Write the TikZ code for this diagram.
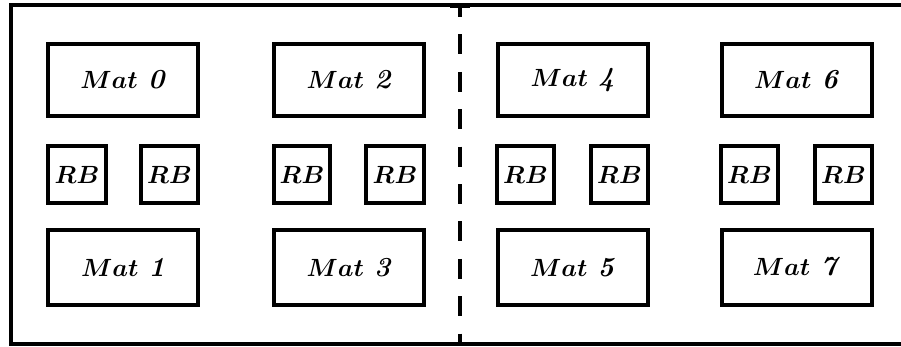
\documentclass[tikz,border=0pt]{standalone}
\newcommand{\matlabel}[1]{$Mat$\ \textit{#1}}
\begin{document}
\begin{tikzpicture}[x=1pt,y=-1pt,
  matbox/.style={draw,line width=4pt,minimum width=150pt,minimum height=72pt,inner sep=0pt,
    font=\fontsize{27.5}{30}\selectfont\bfseries\boldmath},
  rbbox/.style={draw,line width=4pt,minimum width=57pt,minimum height=57pt,inner sep=0pt,
    font=\fontsize{27.5}{30}\selectfont\bfseries\boldmath},
  frame/.style={line width=4pt,line join=miter},
  divider/.style={line width=4pt,dash pattern=on 20pt off 17.4pt,dash phase=7.5pt}]
\useasboundingbox (0,0) rectangle (901,346);

% outer frame (open on the right)
\coordinate (ftr) at (901,4.5);
\coordinate (ftl) at (11,4.5);
\coordinate (fbl) at (11,343.5);
\coordinate (fbr) at (901,343.5);
\draw[frame] (ftr) -- (ftl) -- (fbl) -- (fbr);

% dashed divider between the two halves
\coordinate (divtop) at (460,4.5);
\coordinate (divbot) at (460,343.5);
\coordinate (capl) at (450,6.5);
\coordinate (capr) at (470,6.5);
\draw[divider] (divtop) -- (divbot);
\draw[line width=3pt] (capl) -- (capr);

% matrices, upper row
\node[matbox] (m0) at (123,80) {\matlabel{0}};
\node[matbox] (m2) at (349,80) {\matlabel{2}};
\node[matbox] (m4) at (572.5,80) {\raisebox{2pt}{\matlabel{4}}};
\node[matbox] (m6) at (796.5,80) {\matlabel{6}};

% matrices, lower row
\node[matbox,minimum height=75pt] (m1) at (123,267.5) {\matlabel{1}};
\node[matbox,minimum height=75pt] (m3) at (349,267.5) {\matlabel{3}};
\node[matbox,minimum height=75pt] (m5) at (572.5,267.5) {\matlabel{5}};
\node[matbox,minimum height=75pt] (m7) at (796.5,267.5) {\raisebox{2pt}{\matlabel{7}}};

% register blocks
\node[rbbox,minimum width=58pt] (rb0) at (77,174.5) {$RB$};
\node[rbbox] (rb1) at (169.5,174.5) {$RB$};
\node[rbbox,minimum width=56pt] (rb2) at (302,174.5) {$RB$};
\node[rbbox,minimum width=58pt] (rb3) at (395,174.5) {$RB$};
\node[rbbox] (rb4) at (525.5,174.5) {$RB$};
\node[rbbox] (rb5) at (619.5,174.5) {$RB$};
\node[rbbox] (rb6) at (749.5,174.5) {$RB$};
\node[rbbox] (rb7) at (843.5,174.5) {$RB$};
\end{tikzpicture}
\end{document}
